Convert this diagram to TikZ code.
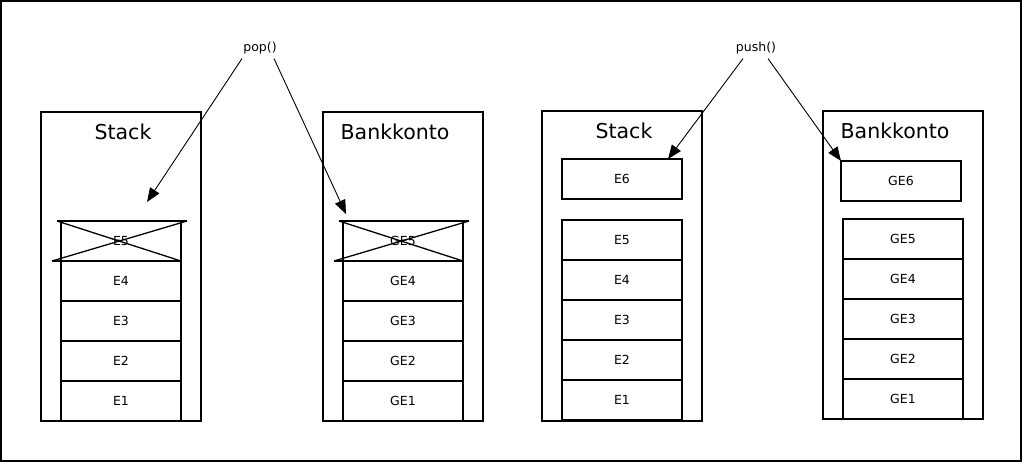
\documentclass[tikz,border=0pt]{standalone}
\usepackage{fontspec}
\setmainfont{DejaVu Sans}
\usetikzlibrary{positioning,arrows.meta}
\tikzset{>={Triangle[length=14pt,width=11pt]}}

\begin{document}
\begin{tikzpicture}[x=1pt,y=-1pt,
    cell/.style={draw, rectangle, line width=2pt, minimum width=120pt, minimum height=40pt, inner sep=0pt, outer sep=0pt, font=\fontsize{12.5}{15}\selectfont},
    container/.style={draw, rectangle, line width=2pt, minimum width=160pt, inner sep=0pt, outer sep=0pt},
    title/.style={font=\fontsize{20.5}{24}\selectfont},
    call/.style={font=\fontsize{12.5}{15}\selectfont},
    pointer/.style={->, line width=0.9pt}]
      \useasboundingbox (0,0) rectangle (1023,464);
      \draw[line width=2pt] (1,1) rectangle (1021,461);
      % pop: left stack and account
      \node[container, minimum height=309pt] (s1) at (121,266.5) {};
      \node[title] (s1t) at (123,132) {Stack};
      \node[cell] (s1e5) at (121,241) {E5};
      \node[cell, below=0pt of s1e5] (s1e4) {E4};
      \node[cell, below=0pt of s1e4] (s1e3) {E3};
      \node[cell, below=0pt of s1e3] (s1e2) {E2};
      \node[cell, below=0pt of s1e2] (s1e1) {E1};
      \node[container, minimum height=309pt] (k1) at (403,266.5) {};
      \node[title] (k1t) at (395,132) {Bankkonto};
      \node[cell] (k1e5) at (403,241) {GE5};
      \node[cell, below=0pt of k1e5] (k1e4) {GE4};
      \node[cell, below=0pt of k1e4] (k1e3) {GE3};
      \node[cell, below=0pt of k1e3] (k1e2) {GE2};
      \node[cell, below=0pt of k1e2] (k1e1) {GE1};
      % crossed out top elements
      \foreach \c in {s1e5,k1e5} {
        \draw[line width=2pt] ([xshift=-4pt]\c.north west) -- ([xshift=6pt]\c.north east);
        \draw[line width=2pt] ([xshift=-9pt]\c.south west) -- (\c.south east);
        \draw[line width=1.3pt] ([xshift=-4pt]\c.north west) -- (\c.south east);
        \draw[line width=1.3pt] ([xshift=-9pt]\c.south west) -- ([xshift=6pt]\c.north east);
      }
      \node[call] (pop) at (260,48) {pop()};
      \coordinate (popS) at (147,202);
      \coordinate (popK) at (346,214);
      \draw[pointer] ([xshift=-18pt,yshift=-1pt]pop.south) -- (popS);
      \draw[pointer] ([xshift=14pt,yshift=-1pt]pop.south) -- (popK);
      % push: right stack and account
      \node[container, minimum height=310pt] (s2) at (622,266) {};
      \node[title] (s2t) at (624,131) {Stack};
      \node[cell] (s2e6) at (622,179) {E6};
      \node[cell] (s2e5) at (622,240) {E5};
      \node[cell, below=0pt of s2e5] (s2e4) {E4};
      \node[cell, below=0pt of s2e4] (s2e3) {E3};
      \node[cell, below=0pt of s2e3] (s2e2) {E2};
      \node[cell, below=0pt of s2e2] (s2e1) {E1};
      \node[container, minimum height=308pt] (k2) at (903,265) {};
      \node[title] (k2t) at (895,131) {Bankkonto};
      \node[cell] (k2e6) at (901,181) {GE6};
      \node[cell] (k2e5) at (903,239) {GE5};
      \node[cell, below=0pt of k2e5] (k2e4) {GE4};
      \node[cell, below=0pt of k2e4] (k2e3) {GE3};
      \node[cell, below=0pt of k2e3] (k2e2) {GE2};
      \node[cell, below=0pt of k2e2] (k2e1) {GE1};
      \node[call] (push) at (756,48) {push()};
      \draw[pointer] ([xshift=-13pt,yshift=-1pt]push.south) -- ([xshift=-14pt]s2e6.north east);
      \draw[pointer] ([xshift=12pt,yshift=-1pt]push.south) -- (k2e6.north west);
    \end{tikzpicture}
\end{document}
